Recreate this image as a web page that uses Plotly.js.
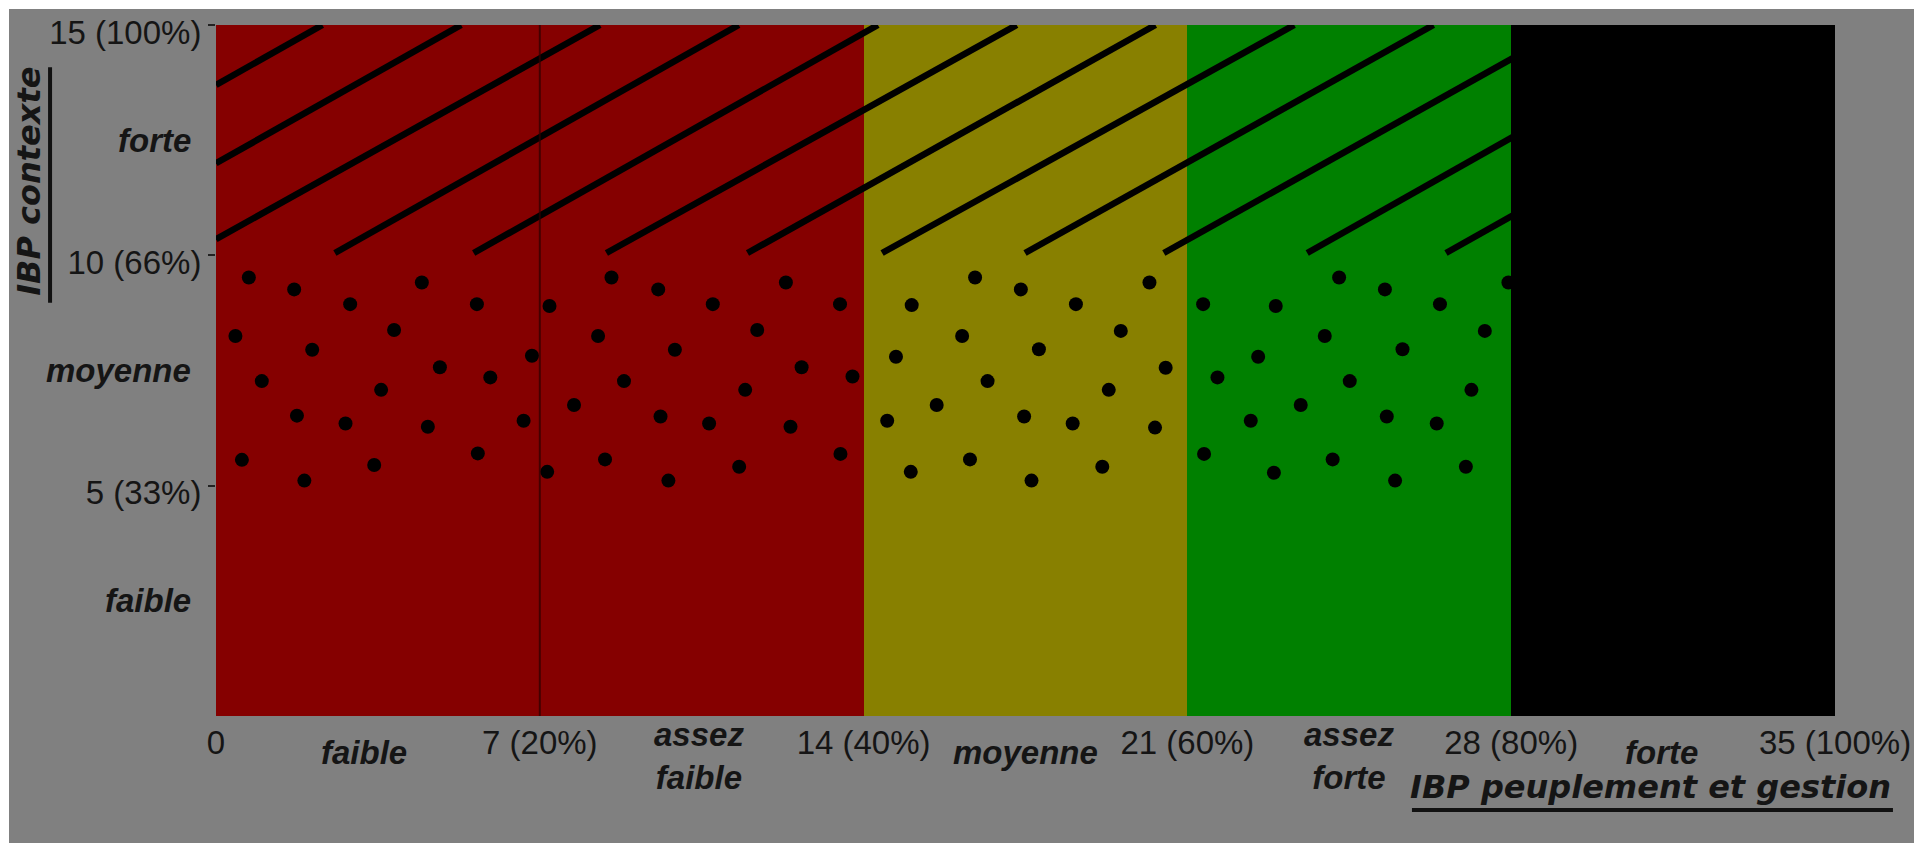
<!DOCTYPE html>
<html><head><meta charset="utf-8">
<script src="https://cdn.plot.ly/plotly-3.0.1.min.js"></script>
<style>
html,body{margin:0;padding:0;background:#ffffff;width:1930px;height:843px;overflow:hidden}
#chart{position:absolute;left:9px;top:9px;width:1905px;height:834px;}
</style>
</head><body><div id="chart"></div>
<script>
// ---- Bands (IBP peuplement et gestion) ----
const bandCenters = [3.5, 10.5, 17.5, 24.5, 31.5];
const bandWidths  = [7, 7, 7, 7, 7];
const bandHeights = [15, 15, 15, 15, 15];
const bandColors  = ['#850000', '#850000', '#888000', '#008000', '#000000'];

// ---- Axis ticks ----
const xTickVals = [0, 7, 14, 21, 28, 35];
const xTickText = ['0', '7 (20%)', '14 (40%)', '21 (60%)', '28 (80%)', '35 (100%)'];
const yTickVals = [5, 10, 15];
const yTickText = ['5 (33%)', '10 (66%)', '15 (100%)'];

// ---- Category labels ----
const xCatLabels = ['faible', 'assez<br>faible', 'moyenne', 'assez<br>forte', 'forte'];
const xCatPos    = [3.2, 10.45, 17.5, 24.5, 31.25];
const yCatLabels = ['faible', 'moyenne', 'forte'];
const yCatPos    = [2.5, 7.5, 12.5];

// ---- Hatching (y 10..15): segment endpoints ----
const hatchX0 = [0, 0, 0, 2.57, 5.57, 8.44, 11.49, 14.40, 17.49, 20.49, 23.59, 26.59];
const hatchY0 = [13.70, 12.00, 10.35, 10.05, 10.05, 10.05, 10.05, 10.05, 10.05, 10.05, 10.05, 10.05];
const hatchX1 = [2.30, 5.30, 8.30, 11.30, 14.31, 17.31, 20.31, 23.31, 26.32, 29.32, 32.32, 35.33];
const hatchY1 = [15, 15, 15, 15, 15, 15, 15, 15, 15, 15, 15, 15];

// ---- Dots (y 5..10) ----
const dotX = [
  0.71,1.69,2.90,4.45,5.64,0.42,2.08,3.85,4.84,5.93,6.83,0.99,3.57,1.75,2.80,4.58,6.65,0.56,1.91,3.42,5.66,
  8.55,9.56,10.74,12.32,13.49,7.21,8.26,9.92,11.70,12.66,13.76,8.82,11.44,7.74,9.61,10.66,12.42,8.41,7.16,9.78,11.31,13.50,
  16.41,17.40,15.04,18.59,20.18,16.13,14.70,17.79,19.56,20.53,16.68,19.30,15.58,14.51,17.47,18.52,20.30,16.30,15.02,17.63,19.16,
  24.28,25.27,21.34,22.91,26.46,27.94,23.97,22.53,25.65,27.43,21.65,24.51,27.14,23.45,22.37,25.31,26.39,21.36,24.14,22.87,25.49,27.02
];
const dotY = [
  9.52,9.26,8.94,9.41,8.94,8.25,7.95,8.38,7.57,7.35,7.82,7.27,7.08,6.52,6.35,6.28,6.41,5.56,5.11,5.45,5.70,
  9.52,9.26,8.94,9.41,8.94,8.90,8.25,7.95,8.38,7.57,7.37,7.27,7.08,6.75,6.50,6.35,6.28,5.57,5.30,5.11,5.41,5.69,
  9.52,9.26,8.92,8.94,9.41,8.25,7.80,7.96,8.36,7.56,7.27,7.08,6.75,6.41,6.50,6.35,6.26,5.57,5.30,5.11,5.41,
  9.52,9.26,8.94,8.90,8.94,9.41,8.25,7.80,7.96,8.36,7.35,7.27,7.08,6.75,6.41,6.50,6.35,5.69,5.57,5.28,5.11,5.41
];

// build hatch line trace (segments separated by null)
const hx = [], hy = [];
for (let i = 0; i < hatchX0.length; i++) {
  hx.push(hatchX0[i], hatchX1[i], null);
  hy.push(hatchY0[i], hatchY1[i], null);
}

const tickFont = {family: '"Liberation Sans", Arial, sans-serif', size: 33, color: '#151515'};
const catFont  = {family: '"Liberation Sans", Arial, sans-serif', size: 33, color: '#151515', weight: 'bold', style: 'italic'};
const titleFont = {family: '"DejaVu Sans", sans-serif', size: 32, color: '#151515', weight: 'bold', style: 'italic'};

const traces = [
  {type: 'bar', x: bandCenters, y: bandHeights, width: bandWidths,
   marker: {color: bandColors, line: {width: 0}}, hoverinfo: 'skip', showlegend: false},
  {type: 'scatter', mode: 'lines', x: hx, y: hy, connectgaps: false,
   line: {color: '#000000', width: 6.5}, hoverinfo: 'skip', showlegend: false},
  {type: 'scatter', mode: 'markers', x: dotX, y: dotY,
   marker: {color: '#000000', size: 14, line: {width: 0}}, hoverinfo: 'skip', showlegend: false}
];

const annotations = [];
xCatLabels.forEach((t, i) => annotations.push({
  text: t, x: xCatPos[i], xref: 'x', y: 0, yref: 'paper', xanchor: 'center', yanchor: 'middle',
  yshift: t.indexOf('<br>') >= 0 ? -40 : -36, showarrow: false, font: catFont, align: 'center'
}));
yCatLabels.forEach((t, i) => annotations.push({
  text: t, x: 0, xref: 'paper', y: yCatPos[i], yref: 'y', xanchor: 'right', yanchor: 'middle',
  xshift: -23, showarrow: false, font: catFont
}));
annotations.push({
  text: 'IBP peuplement et gestion', x: 1, xref: 'paper', y: 0, yref: 'paper',
  xanchor: 'right', yanchor: 'middle', xshift: 58, yshift: -71, showarrow: false, font: titleFont
});
annotations.push({
  text: 'IBP contexte', x: 0, xref: 'paper', y: 0.773, yref: 'paper', textangle: -90,
  xanchor: 'center', yanchor: 'middle', xshift: -187, showarrow: false, font: titleFont
});

const layout = {
  width: 1905, height: 834,
  margin: {l: 207, r: 79, t: 16, b: 127, pad: 0},
  paper_bgcolor: '#808080', plot_bgcolor: '#808080',
  bargap: 0, showlegend: false,
  xaxis: {range: [0, 35], tickvals: xTickVals, ticktext: xTickText, ticks: '',
          showgrid: false, zeroline: false, showline: false, tickfont: tickFont, fixedrange: true,
          ticklabelstandoff: 4, ticklabeloverflow: 'allow'},
  yaxis: {range: [0, 15], tickvals: yTickVals, ticktext: yTickText, ticks: 'outside', ticklen: 7,
          tickwidth: 2, tickcolor: '#222222', showgrid: false, zeroline: false, showline: false,
          tickfont: tickFont, fixedrange: true, ticklabeloverflow: 'allow', ticklabelshift: 7},
  annotations: annotations,
  shapes: [
    {type: 'line', xref: 'x', yref: 'y', x0: 7, x1: 7, y0: 0, y1: 15, layer: 'above',
     line: {color: 'rgba(45,0,0,0.75)', width: 2}},
    {type: 'line', xref: 'paper', yref: 'paper', x0: 0.7387, x1: 1.0358, y0: -0.136, y1: -0.136,
     line: {color: '#111111', width: 4}},
    {type: 'line', xref: 'paper', yref: 'paper', x0: -0.1025, x1: -0.1025, y0: 0.598, y1: 0.939,
     line: {color: '#111111', width: 4}}
  ]
};

Plotly.newPlot('chart', traces, layout, {displayModeBar: false, staticPlot: true});
</script></body></html>
